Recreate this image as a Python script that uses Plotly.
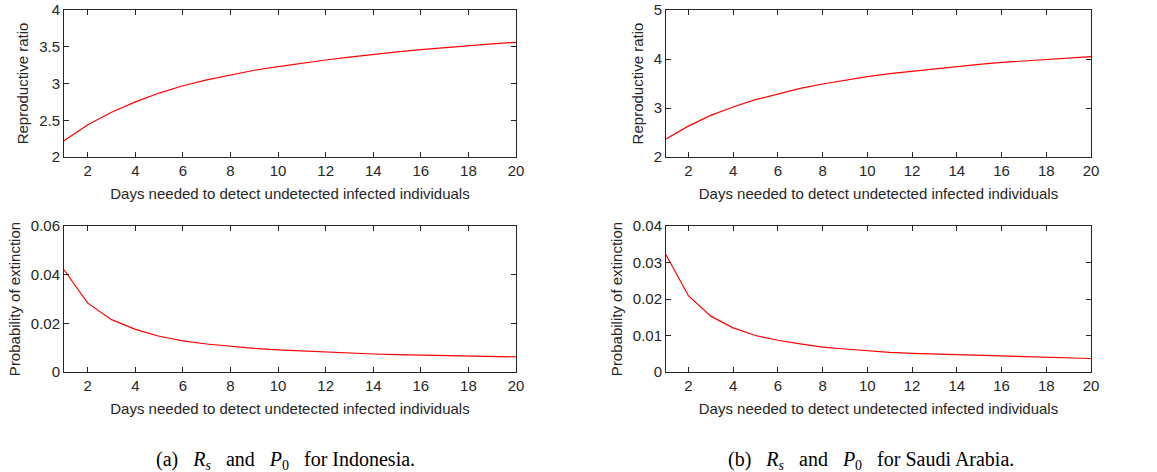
import plotly.graph_objects as go

days = list(range(1, 21))

rs_indonesia = [2.22, 2.44, 2.61, 2.75, 2.87, 2.97, 3.05, 3.12, 3.18, 3.23,
                3.28, 3.32, 3.36, 3.40, 3.43, 3.46, 3.49, 3.51, 3.54, 3.56]
p0_indonesia = [0.042, 0.0283, 0.0215, 0.0175, 0.0147, 0.0128, 0.0115, 0.0105, 0.0097, 0.0091,
                0.0086, 0.0081, 0.0077, 0.0074, 0.0071, 0.0069, 0.0067, 0.0065, 0.0063, 0.0062]
rs_saudi = [2.37, 2.63, 2.85, 3.02, 3.17, 3.29, 3.40, 3.49, 3.57, 3.64,
            3.70, 3.75, 3.80, 3.85, 3.89, 3.93, 3.96, 3.99, 4.02, 4.05]
p0_saudi = [0.0321, 0.0209, 0.0153, 0.0121, 0.0100, 0.0087, 0.0077, 0.0068, 0.0063, 0.0058,
            0.0054, 0.0051, 0.0049, 0.0047, 0.0045, 0.0043, 0.0042, 0.0040, 0.0039, 0.0037]

x_title = "Days needed to detect undetected infected individuals"
x_ticks = [2, 4, 6, 8, 10, 12, 14, 16, 18, 20]

W, H = 1157, 472


def xd(a, b):
    return [a / W, b / W]


def yd(top, bottom):
    return [1 - bottom / H, 1 - top / H]


panels = [
    ("x", "y", rs_indonesia, [2, 4], [2, 2.5, 3, 3.5, 4], ["2", "2.5", "3", "3.5", "4"],
     "Reproductive ratio", xd(64, 516), yd(10, 157)),
    ("x2", "y2", p0_indonesia, [0, 0.06], [0, 0.02, 0.04, 0.06], ["0", "0.02", "0.04", "0.06"],
     "Probability of extinction", xd(64, 516), yd(226, 372)),
    ("x3", "y3", rs_saudi, [2, 5], [2, 3, 4, 5], ["2", "3", "4", "5"],
     "Reproductive ratio", xd(666, 1091), yd(10, 157)),
    ("x4", "y4", p0_saudi, [0, 0.04], [0, 0.01, 0.02, 0.03, 0.04], ["0", "0.01", "0.02", "0.03", "0.04"],
     "Probability of extinction", xd(666, 1091), yd(226, 372)),
]

fig = go.Figure()
layout = {}
axcol = "#262626"
font_tick = dict(family="Liberation Sans, Arial, sans-serif", size=15, color=axcol)

for xa, ya, data, yr, ytv, ytt, ytitle, xdom, ydom in panels:
    fig.add_trace(go.Scatter(x=days, y=data, mode="lines", xaxis=xa, yaxis=ya,
                             line=dict(color="#ff0000", width=1.2), showlegend=False))
    xkey = "xaxis" + xa[1:]
    ykey = "yaxis" + ya[1:]
    layout[xkey] = dict(domain=xdom, anchor=ya, range=[1, 20], tickvals=x_ticks,
                        ticktext=[str(t) for t in x_ticks], automargin=False,
                        ticklabeloverflow="allow",
                        showline=True, linecolor=axcol, linewidth=1, mirror="allticks",
                        ticks="inside", ticklen=5, tickcolor=axcol, showgrid=False, zeroline=False,
                        tickfont=font_tick,
                        title=dict(text=x_title, font=font_tick, standoff=10))
    layout[ykey] = dict(domain=ydom, anchor=xa, range=yr, tickvals=ytv, ticktext=ytt,
                        automargin=False, ticklabeloverflow="allow",
                        showline=True, linecolor=axcol, linewidth=1, mirror="allticks",
                        ticks="inside", ticklen=5, tickcolor=axcol, showgrid=False, zeroline=False,
                        tickfont=font_tick,
                        title=dict(text=ytitle, font=font_tick, standoff=6))

fig.update_layout(**layout)

cap_font = dict(family="Liberation Serif, Times New Roman, serif", size=20, color="#000000")
sp = "&nbsp;"
cap_a = f"(a){sp*3}<i>R</i><sub><i>s</i></sub>{sp*3}and{sp*3}<i>P</i><sub>0</sub>{sp*3}for Indonesia."
cap_b = f"(b){sp*3}<i>R</i><sub><i>s</i></sub>{sp*3}and{sp*3}<i>P</i><sub>0</sub>{sp*3}for Saudi Arabia."
fig.add_annotation(text=cap_a, x=285 / W, y=1 - 460 / H, xref="paper", yref="paper",
                   showarrow=False, font=cap_font, xanchor="center", yanchor="middle")
fig.add_annotation(text=cap_b, x=871 / W, y=1 - 460 / H, xref="paper", yref="paper",
                   showarrow=False, font=cap_font, xanchor="center", yanchor="middle")

fig.update_layout(width=W, height=H, margin=dict(l=0, r=0, t=0, b=0),
                  paper_bgcolor="white", plot_bgcolor="white")

fig.write_html("out.html", config={"displayModeBar": False},
               post_script="document.body.style.margin='0px';document.body.style.overflow='hidden';")
